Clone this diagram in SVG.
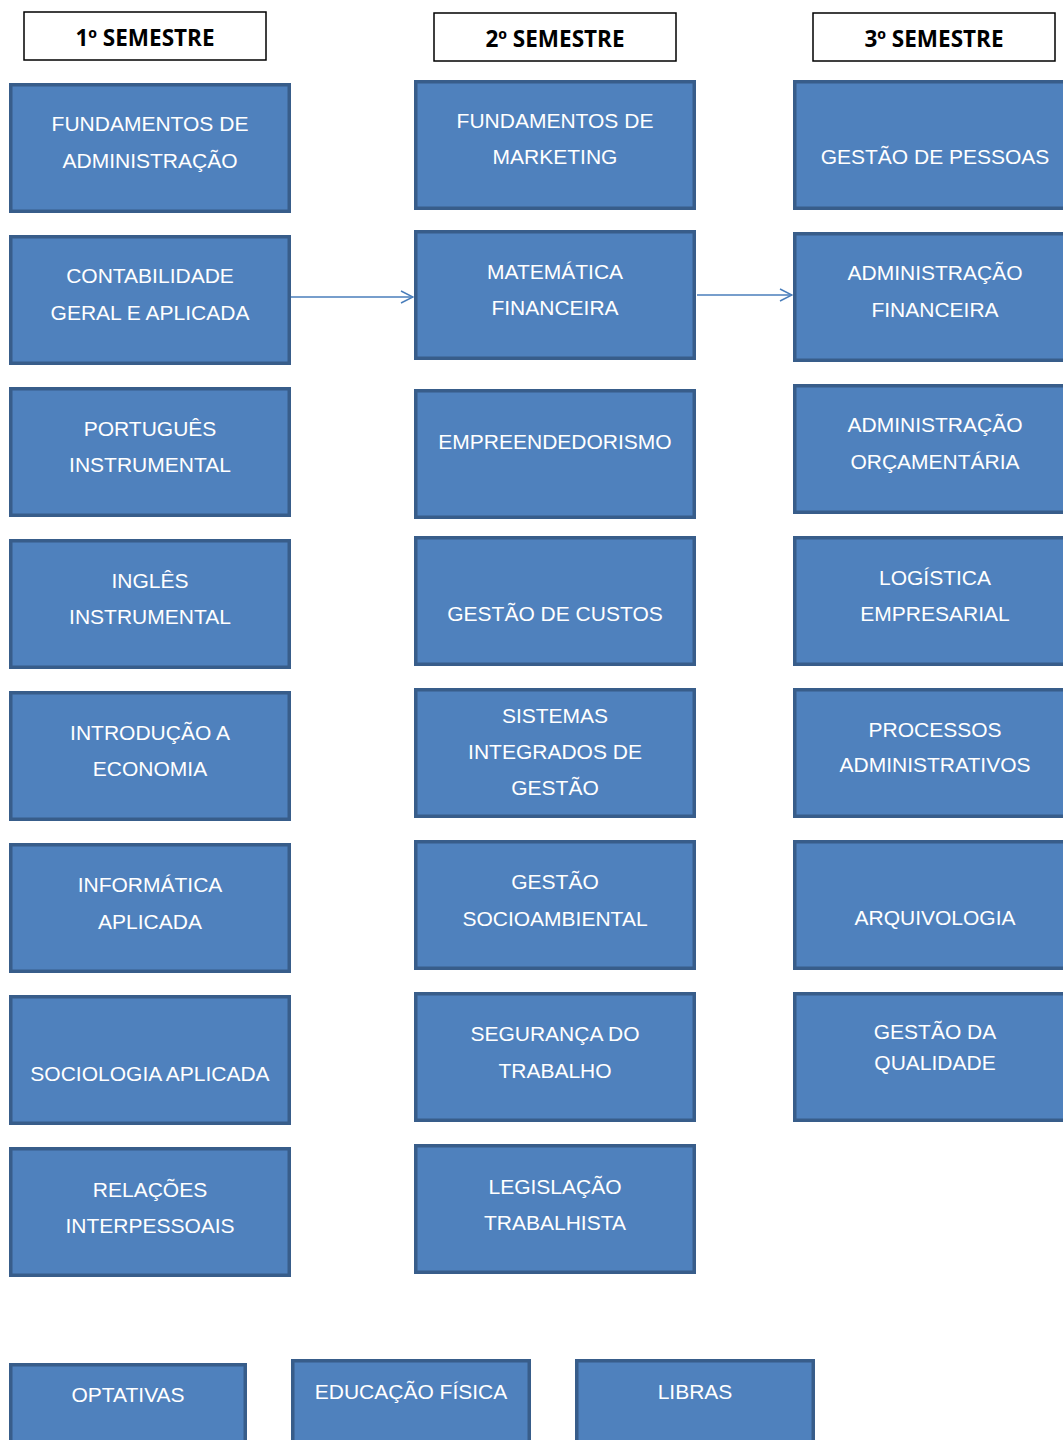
<svg xmlns="http://www.w3.org/2000/svg" width="1063" height="1440" viewBox="0 0 1063 1440">
<defs>
<style>
.b{fill:#4F81BD;stroke:#385D8A;stroke-width:3.5}
.h{fill:#fff;stroke:#000;stroke-width:1.5}
.t{font-family:"Liberation Sans",Arial,sans-serif;font-size:21px;fill:#fff;text-anchor:middle;dominant-baseline:central}
.ht{font-family:"Open Sans","Liberation Sans",sans-serif;font-size:22.5px;font-weight:bold;fill:#000;text-anchor:middle;dominant-baseline:central}
.c{stroke:#4A7EBB;stroke-width:1.5;fill:none}
</style>
<marker id="ah" markerWidth="14" markerHeight="14" refX="13" refY="7" orient="auto" markerUnits="userSpaceOnUse">
<path d="M1,1 L13,7 L1,13" fill="none" stroke="#4A7EBB" stroke-width="1.5"/>
</marker>
</defs>
<rect width="1063" height="1440" fill="#fff"/>
<g id="h1"><rect class="h" x="24" y="12" width="242" height="48"/><text class="ht" x="145" y="37">1º SEMESTRE</text></g>
<g id="h2"><rect class="h" x="434" y="13" width="242" height="48"/><text class="ht" x="555" y="38">2º SEMESTRE</text></g>
<g id="h3"><rect class="h" x="813" y="13" width="242" height="48"/><text class="ht" x="934" y="38">3º SEMESTRE</text></g>

<g id="c1n1"><rect class="b" x="10.75" y="84.75" width="278.5" height="126.5"/><text class="t" x="150" y="123">FUNDAMENTOS DE</text><text class="t" x="150" y="160">ADMINISTRAÇÃO</text></g>
<g id="c1n2"><rect class="b" x="10.75" y="236.75" width="278.5" height="126.5"/><text class="t" x="150" y="275">CONTABILIDADE</text><text class="t" x="150" y="312">GERAL E APLICADA</text></g>
<g id="c1n3"><rect class="b" x="10.75" y="388.75" width="278.5" height="126.5"/><text class="t" x="150" y="428">PORTUGUÊS</text><text class="t" x="150" y="464">INSTRUMENTAL</text></g>
<g id="c1n4"><rect class="b" x="10.75" y="540.75" width="278.5" height="126.5"/><text class="t" x="150" y="580">INGLÊS</text><text class="t" x="150" y="616">INSTRUMENTAL</text></g>
<g id="c1n5"><rect class="b" x="10.75" y="692.75" width="278.5" height="126.5"/><text class="t" x="150" y="732">INTRODUÇÃO A</text><text class="t" x="150" y="768">ECONOMIA</text></g>
<g id="c1n6"><rect class="b" x="10.75" y="844.75" width="278.5" height="126.5"/><text class="t" x="150" y="884">INFORMÁTICA</text><text class="t" x="150" y="921">APLICADA</text></g>
<g id="c1n7"><rect class="b" x="10.75" y="996.75" width="278.5" height="126.5"/><text class="t" x="150" y="1073">SOCIOLOGIA APLICADA</text></g>
<g id="c1n8"><rect class="b" x="10.75" y="1148.75" width="278.5" height="126.5"/><text class="t" x="150" y="1189">RELAÇÕES</text><text class="t" x="150" y="1225">INTERPESSOAIS</text></g>

<g id="c2n1"><rect class="b" x="415.75" y="81.75" width="278.5" height="126.5"/><text class="t" x="555" y="120">FUNDAMENTOS DE</text><text class="t" x="555" y="156">MARKETING</text></g>
<g id="c2n2"><rect class="b" x="415.75" y="231.75" width="278.5" height="126.5"/><text class="t" x="555" y="271">MATEMÁTICA</text><text class="t" x="555" y="307">FINANCEIRA</text></g>
<g id="c2n3"><rect class="b" x="415.75" y="390.75" width="278.5" height="126.5"/><text class="t" x="555" y="441">EMPREENDEDORISMO</text></g>
<g id="c2n4"><rect class="b" x="415.75" y="537.75" width="278.5" height="126.5"/><text class="t" x="555" y="613">GESTÃO DE CUSTOS</text></g>
<g id="c2n5"><rect class="b" x="415.75" y="689.75" width="278.5" height="126.5"/><text class="t" x="555" y="715">SISTEMAS</text><text class="t" x="555" y="751">INTEGRADOS DE</text><text class="t" x="555" y="787">GESTÃO</text></g>
<g id="c2n6"><rect class="b" x="415.75" y="841.75" width="278.5" height="126.5"/><text class="t" x="555" y="881">GESTÃO</text><text class="t" x="555" y="918">SOCIOAMBIENTAL</text></g>
<g id="c2n7"><rect class="b" x="415.75" y="993.75" width="278.5" height="126.5"/><text class="t" x="555" y="1033">SEGURANÇA DO</text><text class="t" x="555" y="1070">TRABALHO</text></g>
<g id="c2n8"><rect class="b" x="415.75" y="1145.75" width="278.5" height="126.5"/><text class="t" x="555" y="1186">LEGISLAÇÃO</text><text class="t" x="555" y="1222">TRABALHISTA</text></g>

<g id="c3n1"><rect class="b" x="794.75" y="81.75" width="278.5" height="126.5"/><text class="t" x="935" y="156">GESTÃO DE PESSOAS</text></g>
<g id="c3n2"><rect class="b" x="794.75" y="233.75" width="278.5" height="126.5"/><text class="t" x="935" y="272">ADMINISTRAÇÃO</text><text class="t" x="935" y="309">FINANCEIRA</text></g>
<g id="c3n3"><rect class="b" x="794.75" y="385.75" width="278.5" height="126.5"/><text class="t" x="935" y="424">ADMINISTRAÇÃO</text><text class="t" x="935" y="461">ORÇAMENTÁRIA</text></g>
<g id="c3n4"><rect class="b" x="794.75" y="537.75" width="278.5" height="126.5"/><text class="t" x="935" y="577">LOGÍSTICA</text><text class="t" x="935" y="613">EMPRESARIAL</text></g>
<g id="c3n5"><rect class="b" x="794.75" y="689.75" width="278.5" height="126.5"/><text class="t" x="935" y="729">PROCESSOS</text><text class="t" x="935" y="764">ADMINISTRATIVOS</text></g>
<g id="c3n6"><rect class="b" x="794.75" y="841.75" width="278.5" height="126.5"/><text class="t" x="935" y="917">ARQUIVOLOGIA</text></g>
<g id="c3n7"><rect class="b" x="794.75" y="993.75" width="278.5" height="126.5"/><text class="t" x="935" y="1031">GESTÃO DA</text><text class="t" x="935" y="1062">QUALIDADE</text></g>

<g id="opt"><rect class="b" x="10.75" y="1364.75" width="234.5" height="100"/><text class="t" x="128" y="1394">OPTATIVAS</text></g>
<g id="edf"><rect class="b" x="292.75" y="1360.75" width="236.5" height="100"/><text class="t" x="411" y="1391">EDUCAÇÃO FÍSICA</text></g>
<g id="lib"><rect class="b" x="576.75" y="1360.75" width="236.5" height="100"/><text class="t" x="695" y="1391">LIBRAS</text></g>

<g id="connectors">
<line class="c" x1="291" y1="297" x2="413" y2="297" marker-end="url(#ah)"/>
<line class="c" x1="697" y1="295" x2="792" y2="295" marker-end="url(#ah)"/>
</g>
</svg>
